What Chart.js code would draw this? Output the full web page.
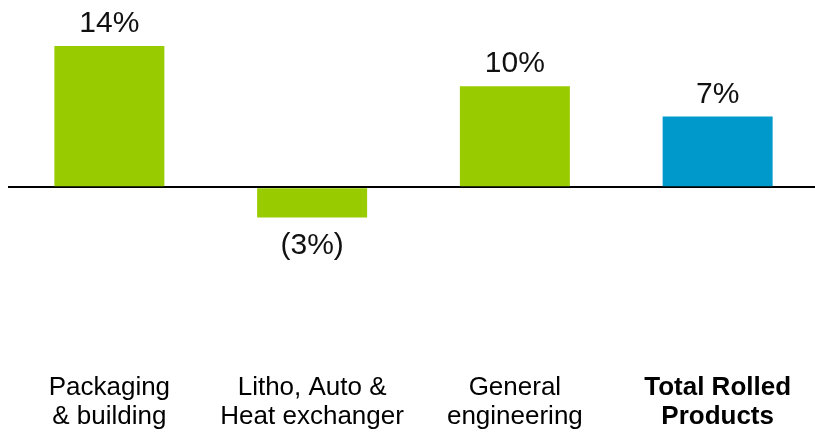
<!DOCTYPE html>
<html>
<head>
<meta charset="utf-8">
<script src="https://cdn.jsdelivr.net/npm/chart.js@4.4.1/dist/chart.umd.min.js"></script>
<style>
  html, body { margin: 0; padding: 0; background: #fff; overflow: hidden; }
  #wrap { position: absolute; left: 0; top: 0; width: 819px; height: 434px; }
</style>
</head>
<body>
<div id="wrap"><canvas id="chart"></canvas></div>
<script>
// Segment growth, percent
const categories = [
  ['Packaging', '& building'],
  ['Litho, Auto &', 'Heat exchanger'],
  ['General', 'engineering'],
  ['Total Rolled', 'Products']
];
const growth = [14, -3, 10, 7];
const barColors = ['#99CC00', '#99CC00', '#99CC00', '#0099CC'];

const FONT = "'Liberation Sans', Arial, Helvetica, sans-serif";

const fmt = v => (v < 0 ? '(' + Math.abs(v) + '%)' : v + '%');

// Writes each bar's value above (or below, when negative) the bar
const valueLabels = {
  id: 'valueLabels',
  afterDatasetsDraw(chart) {
    const ctx = chart.ctx;
    const meta = chart.getDatasetMeta(0);
    ctx.save();
    ctx.font = '30px ' + FONT;
    ctx.fillStyle = '#111';
    ctx.textAlign = 'center';
    ctx.textBaseline = 'alphabetic';
    meta.data.forEach((bar, i) => {
      const v = growth[i];
      const y = v >= 0 ? bar.y - 14 : bar.y + 37;
      ctx.fillText(fmt(v), bar.x, y);
    });
    ctx.restore();
  }
};

new Chart(document.getElementById('chart'), {
  type: 'bar',
  data: {
    labels: categories,
    datasets: [{
      data: growth,
      backgroundColor: barColors,
      borderWidth: 0,
      barPercentage: 0.5425,
      categoryPercentage: 1
    }]
  },
  options: {
    responsive: true,
    maintainAspectRatio: false,
    animation: false,
    layout: { padding: { left: 8, right: 0, top: 0, bottom: 0 } },
    plugins: { legend: { display: false }, tooltip: { enabled: false } },
    scales: {
      x: {
        grid: { display: false, drawTicks: false },
        border: { display: false },
        ticks: {
          color: '#000',
          padding: 3,
          maxRotation: 0,
          autoSkip: false,
          font: ctx => ({
            family: FONT,
            size: 26,
            lineHeight: 1.1,
            weight: ctx.index === 3 ? 'bold' : 'normal'
          })
        }
      },
      y: {
        min: -18.21,
        max: 18.56,
        afterBuildTicks: scale => { scale.ticks = [{ value: 0 }]; },
        ticks: { display: false },
        border: { display: false },
        grid: { color: '#000', lineWidth: 2, drawTicks: false }
      }
    }
  },
  plugins: [valueLabels]
});
</script>
</body>
</html>
